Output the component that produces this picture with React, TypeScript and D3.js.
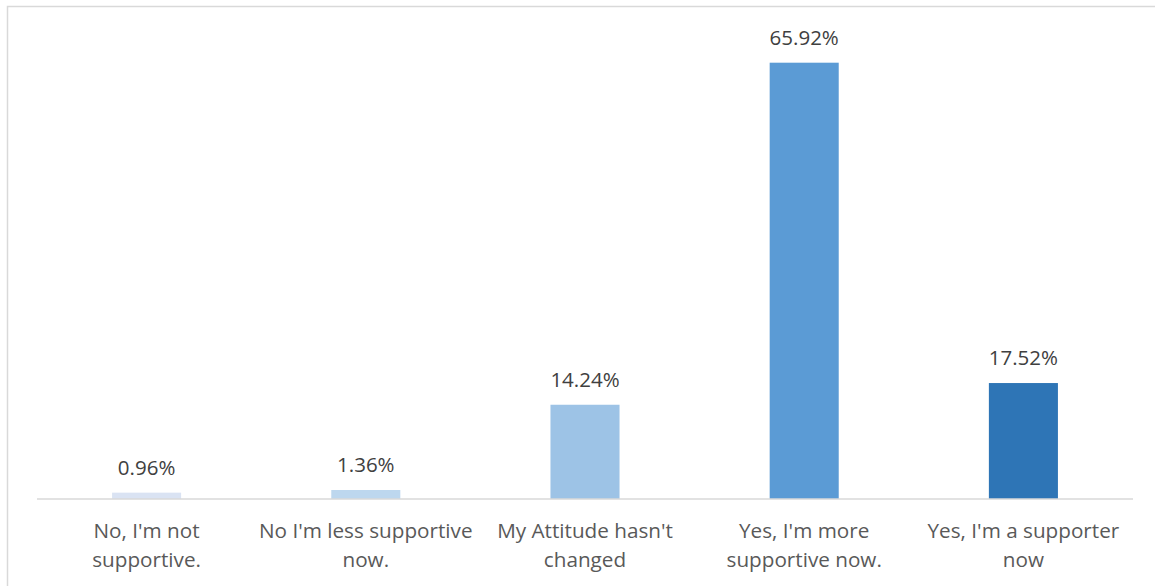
import React from "react";
import * as d3 from "d3";

const categories: string[] = [
  "No, I'm not\nsupportive.",
  "No I'm less supportive\nnow.",
  "My Attitude hasn't\nchanged",
  "Yes, I'm more\nsupportive now.",
  "Yes, I'm a supporter\nnow",
];
const values: number[] = [0.96, 1.36, 14.24, 65.92, 17.52];
const colors: string[] = ["#dae3f3", "#bdd7ee", "#9dc3e6", "#5b9bd5", "#2e75b6"];

const W = 1155;
const H = 586;
const plotLeft = 37;
const plotRight = 1133;
const baseY = 499;
const FONT = "'Open Sans', 'Noto Sans', sans-serif";

export default function App() {
  const x = d3
    .scaleBand<number>()
    .domain(values.map((_, i) => i))
    .range([plotLeft, plotRight])
    .padding(0);
  const y = d3.scaleLinear().domain([0, 65.92]).range([baseY, 62.7]);
  const barW = x.bandwidth() * 0.315;

  return (
    <svg
      width={W}
      height={H}
      style={{ position: "absolute", left: 0, top: 0, background: "#fff" }}
    >
      <rect x={7.5} y={6.5} width={W + 10} height={H + 10} fill="#fff" stroke="#d9d9d9" strokeWidth={1.5} />
      {values.map((v, i) => {
        const cx = (x(i) as number) + x.bandwidth() / 2;
        return (
          <g key={i}>
            <rect x={cx - barW / 2} y={y(v)} width={barW} height={baseY - y(v)} fill={colors[i]} />
            <text
              x={cx}
              y={y(v) - 18}
              textAnchor="middle"
              fontFamily={FONT}
              fontSize={20.5}
              fill="#404040"
            >
              {v.toFixed(2) + "%"}
            </text>
            {categories[i].split("\n").map((line, j) => (
              <text
                key={j}
                x={cx}
                y={538 + j * 29}
                textAnchor="middle"
                fontFamily={FONT}
                fontSize={20.7}
                fill="#595959"
              >
                {line}
              </text>
            ))}
          </g>
        );
      })}
      <line x1={plotLeft} x2={plotRight} y1={baseY} y2={baseY} stroke="#d9d9d9" strokeWidth={1.5} />
    </svg>
  );
}
